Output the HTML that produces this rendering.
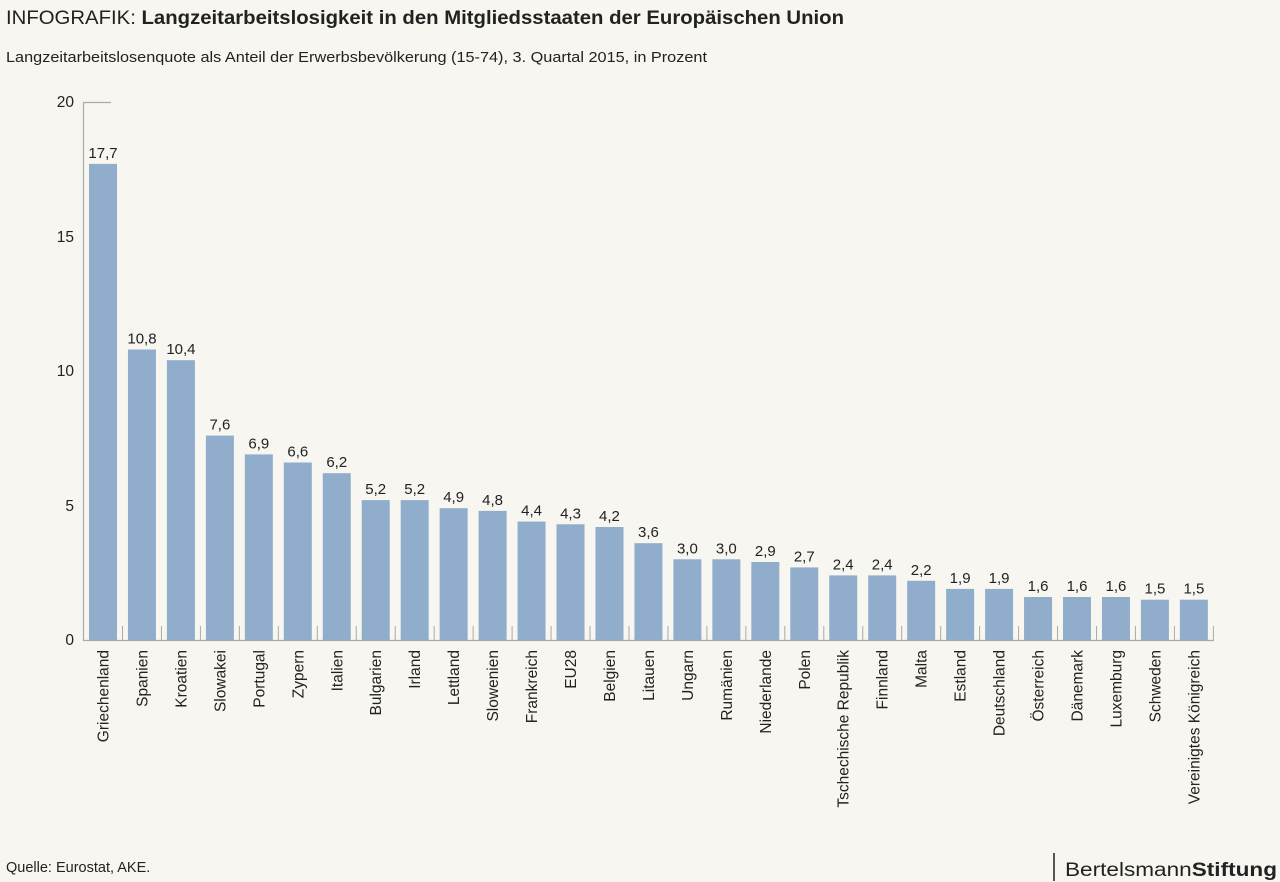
<!DOCTYPE html>
<html><head><meta charset="utf-8"><style>
body{margin:0;background:#f7f6f0;}
svg{display:block;font-family:"Liberation Sans",sans-serif;}
</style></head><body>
<svg width="1280" height="882" viewBox="0 0 1280 882" xmlns="http://www.w3.org/2000/svg">
<rect width="1280" height="882" fill="#f7f6f0"/>
<text x="6" y="24" font-size="19.5" fill="#222" textLength="838" lengthAdjust="spacingAndGlyphs">INFOGRAFIK: <tspan font-weight="bold">Langzeitarbeitslosigkeit in den Mitgliedsstaaten der Europäischen Union</tspan></text>
<text x="6" y="62" font-size="14.5" fill="#222" textLength="701" lengthAdjust="spacingAndGlyphs">Langzeitarbeitslosenquote als Anteil der Erwerbsbevölkerung (15-74), 3. Quartal 2015, in Prozent</text>
<g font-size="15.5" fill="#222" text-anchor="end">
<text x="74" y="107">20</text><text x="74" y="242">15</text><text x="74" y="376">10</text><text x="74" y="511">5</text><text x="74" y="645">0</text>
</g>
<path d="M83.5 102V640.5H1214M83 102.5H111" stroke="#aaa" stroke-width="1.2" fill="none"/>
<defs><style>.v{font-size:15px;fill:#222;text-anchor:middle}.l{font-size:15.5px;fill:#222;text-anchor:end}</style></defs>
<g transform="translate(89,0)"><rect y="163.9" width="28" height="476.1" fill="#90aecb"/><text class="v" x="14" y="157.9">17,7</text><text class="l" transform="translate(19.5,650) rotate(-90)">Griechenland</text><line x1="33.5" y1="626" x2="33.5" y2="640" stroke="#aaa"/></g>
<g transform="translate(127.96,0)"><rect y="349.5" width="28" height="290.5" fill="#90aecb"/><text class="v" x="14" y="343.5">10,8</text><text class="l" transform="translate(19.5,650) rotate(-90)">Spanien</text><line x1="33.5" y1="626" x2="33.5" y2="640" stroke="#aaa"/></g>
<g transform="translate(166.92,0)"><rect y="360.2" width="28" height="279.8" fill="#90aecb"/><text class="v" x="14" y="354.2">10,4</text><text class="l" transform="translate(19.5,650) rotate(-90)">Kroatien</text><line x1="33.5" y1="626" x2="33.5" y2="640" stroke="#aaa"/></g>
<g transform="translate(205.88,0)"><rect y="435.6" width="28" height="204.4" fill="#90aecb"/><text class="v" x="14" y="429.6">7,6</text><text class="l" transform="translate(19.5,650) rotate(-90)">Slowakei</text><line x1="33.5" y1="626" x2="33.5" y2="640" stroke="#aaa"/></g>
<g transform="translate(244.84,0)"><rect y="454.4" width="28" height="185.6" fill="#90aecb"/><text class="v" x="14" y="448.4">6,9</text><text class="l" transform="translate(19.5,650) rotate(-90)">Portugal</text><line x1="33.5" y1="626" x2="33.5" y2="640" stroke="#aaa"/></g>
<g transform="translate(283.8,0)"><rect y="462.5" width="28" height="177.5" fill="#90aecb"/><text class="v" x="14" y="456.5">6,6</text><text class="l" transform="translate(19.5,650) rotate(-90)">Zypern</text><line x1="33.5" y1="626" x2="33.5" y2="640" stroke="#aaa"/></g>
<g transform="translate(322.76,0)"><rect y="473.2" width="28" height="166.8" fill="#90aecb"/><text class="v" x="14" y="467.2">6,2</text><text class="l" transform="translate(19.5,650) rotate(-90)">Italien</text><line x1="33.5" y1="626" x2="33.5" y2="640" stroke="#aaa"/></g>
<g transform="translate(361.72,0)"><rect y="500.1" width="28" height="139.9" fill="#90aecb"/><text class="v" x="14" y="494.1">5,2</text><text class="l" transform="translate(19.5,650) rotate(-90)">Bulgarien</text><line x1="33.5" y1="626" x2="33.5" y2="640" stroke="#aaa"/></g>
<g transform="translate(400.68,0)"><rect y="500.1" width="28" height="139.9" fill="#90aecb"/><text class="v" x="14" y="494.1">5,2</text><text class="l" transform="translate(19.5,650) rotate(-90)">Irland</text><line x1="33.5" y1="626" x2="33.5" y2="640" stroke="#aaa"/></g>
<g transform="translate(439.64,0)"><rect y="508.2" width="28" height="131.8" fill="#90aecb"/><text class="v" x="14" y="502.2">4,9</text><text class="l" transform="translate(19.5,650) rotate(-90)">Lettland</text><line x1="33.5" y1="626" x2="33.5" y2="640" stroke="#aaa"/></g>
<g transform="translate(478.6,0)"><rect y="510.9" width="28" height="129.1" fill="#90aecb"/><text class="v" x="14" y="504.9">4,8</text><text class="l" transform="translate(19.5,650) rotate(-90)">Slowenien</text><line x1="33.5" y1="626" x2="33.5" y2="640" stroke="#aaa"/></g>
<g transform="translate(517.56,0)"><rect y="521.6" width="28" height="118.4" fill="#90aecb"/><text class="v" x="14" y="515.6">4,4</text><text class="l" transform="translate(19.5,650) rotate(-90)">Frankreich</text><line x1="33.5" y1="626" x2="33.5" y2="640" stroke="#aaa"/></g>
<g transform="translate(556.52,0)"><rect y="524.3" width="28" height="115.7" fill="#90aecb"/><text class="v" x="14" y="518.3">4,3</text><text class="l" transform="translate(19.5,650) rotate(-90)">EU28</text><line x1="33.5" y1="626" x2="33.5" y2="640" stroke="#aaa"/></g>
<g transform="translate(595.48,0)"><rect y="527" width="28" height="113" fill="#90aecb"/><text class="v" x="14" y="521">4,2</text><text class="l" transform="translate(19.5,650) rotate(-90)">Belgien</text><line x1="33.5" y1="626" x2="33.5" y2="640" stroke="#aaa"/></g>
<g transform="translate(634.44,0)"><rect y="543.2" width="28" height="96.8" fill="#90aecb"/><text class="v" x="14" y="537.2">3,6</text><text class="l" transform="translate(19.5,650) rotate(-90)">Litauen</text><line x1="33.5" y1="626" x2="33.5" y2="640" stroke="#aaa"/></g>
<g transform="translate(673.4,0)"><rect y="559.3" width="28" height="80.7" fill="#90aecb"/><text class="v" x="14" y="553.3">3,0</text><text class="l" transform="translate(19.5,650) rotate(-90)">Ungarn</text><line x1="33.5" y1="626" x2="33.5" y2="640" stroke="#aaa"/></g>
<g transform="translate(712.36,0)"><rect y="559.3" width="28" height="80.7" fill="#90aecb"/><text class="v" x="14" y="553.3">3,0</text><text class="l" transform="translate(19.5,650) rotate(-90)">Rumänien</text><line x1="33.5" y1="626" x2="33.5" y2="640" stroke="#aaa"/></g>
<g transform="translate(751.32,0)"><rect y="562" width="28" height="78" fill="#90aecb"/><text class="v" x="14" y="556">2,9</text><text class="l" transform="translate(19.5,650) rotate(-90)">Niederlande</text><line x1="33.5" y1="626" x2="33.5" y2="640" stroke="#aaa"/></g>
<g transform="translate(790.28,0)"><rect y="567.4" width="28" height="72.6" fill="#90aecb"/><text class="v" x="14" y="561.4">2,7</text><text class="l" transform="translate(19.5,650) rotate(-90)">Polen</text><line x1="33.5" y1="626" x2="33.5" y2="640" stroke="#aaa"/></g>
<g transform="translate(829.24,0)"><rect y="575.4" width="28" height="64.6" fill="#90aecb"/><text class="v" x="14" y="569.4">2,4</text><text class="l" transform="translate(19.5,650) rotate(-90)">Tschechische Republik</text><line x1="33.5" y1="626" x2="33.5" y2="640" stroke="#aaa"/></g>
<g transform="translate(868.2,0)"><rect y="575.4" width="28" height="64.6" fill="#90aecb"/><text class="v" x="14" y="569.4">2,4</text><text class="l" transform="translate(19.5,650) rotate(-90)">Finnland</text><line x1="33.5" y1="626" x2="33.5" y2="640" stroke="#aaa"/></g>
<g transform="translate(907.16,0)"><rect y="580.8" width="28" height="59.2" fill="#90aecb"/><text class="v" x="14" y="574.8">2,2</text><text class="l" transform="translate(19.5,650) rotate(-90)">Malta</text><line x1="33.5" y1="626" x2="33.5" y2="640" stroke="#aaa"/></g>
<g transform="translate(946.12,0)"><rect y="588.9" width="28" height="51.1" fill="#90aecb"/><text class="v" x="14" y="582.9">1,9</text><text class="l" transform="translate(19.5,650) rotate(-90)">Estland</text><line x1="33.5" y1="626" x2="33.5" y2="640" stroke="#aaa"/></g>
<g transform="translate(985.08,0)"><rect y="588.9" width="28" height="51.1" fill="#90aecb"/><text class="v" x="14" y="582.9">1,9</text><text class="l" transform="translate(19.5,650) rotate(-90)">Deutschland</text><line x1="33.5" y1="626" x2="33.5" y2="640" stroke="#aaa"/></g>
<g transform="translate(1024.04,0)"><rect y="597" width="28" height="43" fill="#90aecb"/><text class="v" x="14" y="591">1,6</text><text class="l" transform="translate(19.5,650) rotate(-90)">Österreich</text><line x1="33.5" y1="626" x2="33.5" y2="640" stroke="#aaa"/></g>
<g transform="translate(1063,0)"><rect y="597" width="28" height="43" fill="#90aecb"/><text class="v" x="14" y="591">1,6</text><text class="l" transform="translate(19.5,650) rotate(-90)">Dänemark</text><line x1="33.5" y1="626" x2="33.5" y2="640" stroke="#aaa"/></g>
<g transform="translate(1101.96,0)"><rect y="597" width="28" height="43" fill="#90aecb"/><text class="v" x="14" y="591">1,6</text><text class="l" transform="translate(19.5,650) rotate(-90)">Luxemburg</text><line x1="33.5" y1="626" x2="33.5" y2="640" stroke="#aaa"/></g>
<g transform="translate(1140.92,0)"><rect y="599.7" width="28" height="40.3" fill="#90aecb"/><text class="v" x="14" y="593.7">1,5</text><text class="l" transform="translate(19.5,650) rotate(-90)">Schweden</text><line x1="33.5" y1="626" x2="33.5" y2="640" stroke="#aaa"/></g>
<g transform="translate(1179.88,0)"><rect y="599.7" width="28" height="40.3" fill="#90aecb"/><text class="v" x="14" y="593.7">1,5</text><text class="l" transform="translate(19.5,650) rotate(-90)">Vereinigtes Königreich</text><line x1="33.5" y1="626" x2="33.5" y2="640" stroke="#aaa"/></g>
<text x="6" y="872" font-size="14.5" fill="#222">Quelle: Eurostat, AKE.</text>
<line x1="1054" y1="853" x2="1054" y2="881" stroke="#222" stroke-width="1.5"/>
<text x="1065" y="876" font-size="19" fill="#222" textLength="212" lengthAdjust="spacingAndGlyphs">Bertelsmann<tspan font-weight="bold">Stiftung</tspan></text>
</svg>
</body></html>
